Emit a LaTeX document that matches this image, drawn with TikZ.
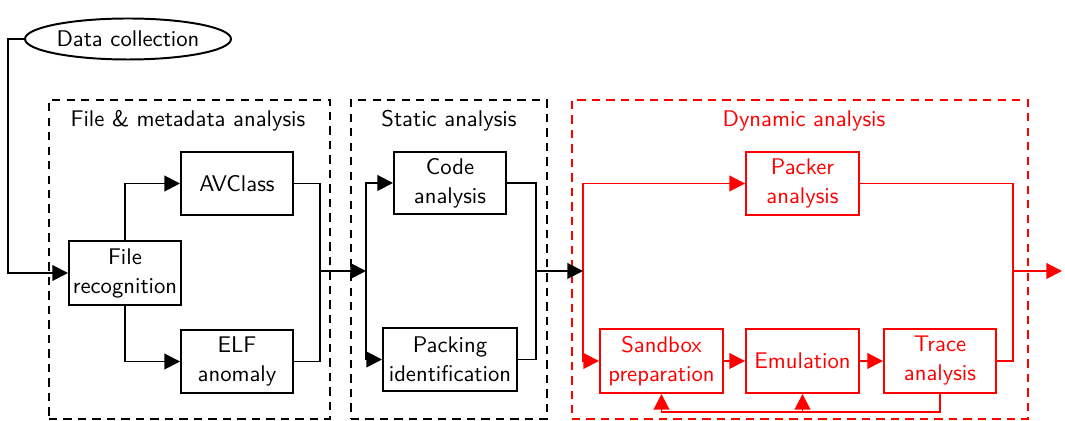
\documentclass[tikz,border=0pt]{standalone}
\usetikzlibrary{arrows.meta,positioning,shapes.geometric}
\begin{document}
\begin{tikzpicture}[x=0.483pt,y=-0.483pt,line width=0.95pt,
  every node/.style={font=\sffamily\fontsize{10.95}{14}\selectfont},
  box/.style={draw,line width=0.95pt,rectangle,inner sep=0pt,align=center,minimum height={63*0.483pt},minimum width={112*0.483pt}},
  group/.style={draw,line width=0.95pt,dash pattern=on 4pt off 3pt,rectangle,inner sep=0pt,minimum height={319*0.483pt}},
  arr/.style={line width=0.95pt,-{Triangle[length=7.5pt,width=7.5pt]}},
  ln/.style={line width=0.95pt},
  dyn/.style={red}]
\useasboundingbox (0,0) rectangle (1065,421);
% groups
\node[group,minimum width={281*0.483pt}] (g1) at (189.5,259.5) {};
\node[group,minimum width={196*0.483pt}] (g2) at (449,259.5) {};
\node[group,red,minimum width={456*0.483pt}] (g3) at (800,259.5) {};
\node (t1) at (188,121) {File \& metadata analysis};
\node (t2) at (449,121) {Static analysis};
\node[red] (t3) at (804,121) {Dynamic analysis};
% nodes
\node[draw,line width=0.95pt,ellipse,inner sep=0pt,minimum width={206*0.483pt},minimum height={41*0.483pt}] (dc) at (128,39) {Data collection};
\node[box,minimum height={64*0.483pt}] (fr) at (125,273) {File\\recognition};
\node[box] (av) at (237,183.5) {AVClass};
\node[box] (elf) at (237,361.5) {ELF\\anomaly};
\node[box,minimum height={62*0.483pt}] (code) at (450,183) {Code\\analysis};
\node[box,minimum width={134*0.483pt}] (pack) at (450,359.5) {Packing\\identification};
\node[box,dyn,minimum width={113*0.483pt}] (pk) at (802.5,183.5) {Packer\\analysis};
\node[box,dyn,minimum width={123*0.483pt},minimum height={64*0.483pt}] (sb) at (661.5,361) {Sandbox\\preparation};
\node[box,dyn,minimum width={113*0.483pt},minimum height={64*0.483pt}] (em) at (802.5,361) {Emulation};
\node[box,dyn,minimum height={64*0.483pt}] (tr) at (940,361) {Trace\\analysis};
% junctions
\coordinate (j1) at (320,271);
\coordinate (j2) at (366,271);
\coordinate (j3) at (536,271);
\coordinate (j4) at (583,271);
\coordinate (j5) at (1013,271);
\coordinate (out) at (1062,271);
\coordinate (fb) at (940,412);
% connectors
\draw[arr] (dc.west) -- (8,39) |- (fr.west);
\draw[arr] (fr.north) |- (av.west);
\draw[arr] (fr.south) |- (elf.west);
\draw[ln] (av.east) -| (j1);
\draw[ln] (elf.east) -| (j1);
\draw[arr] (j1) -- (j2);
\draw[arr] (j2) |- (code.west);
\draw[arr] (j2) |- (pack.west);
\draw[ln] (code.east) -| (j3);
\draw[ln] (pack.east) -| (j3);
\draw[arr,red] (j4) |- (pk.west);
\draw[arr,red] (j4) |- (sb.west);
\draw[arr] (j3) -- (j4);
\draw[arr,red] (sb.east) -- (em.west);
\draw[arr,red] (em.east) -- (tr.west);
\draw[arr,red] (tr.south) -- (fb) -| (sb.south);
\draw[arr,red] (em.south |- fb) -- (em.south);
\draw[ln,red] (pk.east) -| (j5);
\draw[ln,red] (tr.east) -| (j5);
\draw[arr,red] (j5) -- (out);
\end{tikzpicture}
\end{document}
